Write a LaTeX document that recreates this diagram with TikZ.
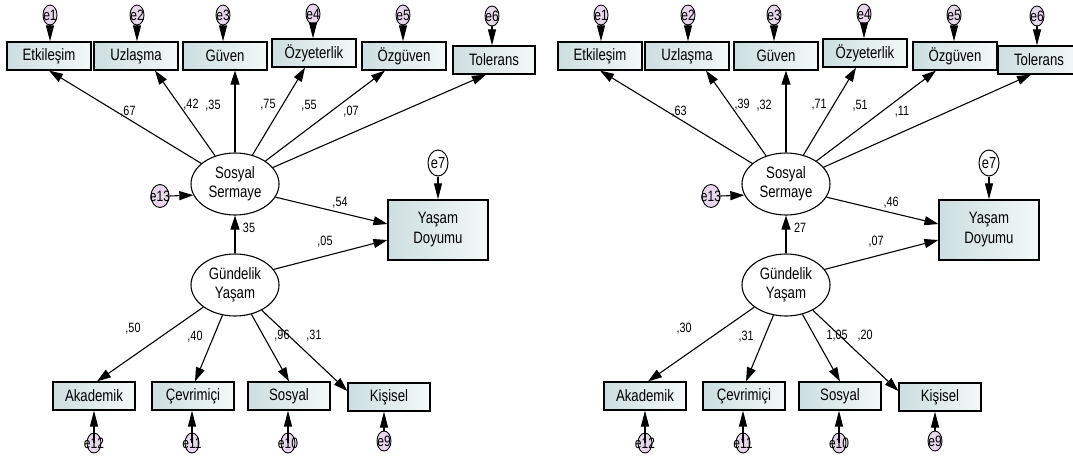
\documentclass[tikz,border=0pt]{standalone}
\usepackage{fontspec}
\setmainfont{Liberation Sans}
\newfontfamily\narrowsans[FakeStretch=0.8]{Liberation Sans}
\usetikzlibrary{arrows.meta,shapes.geometric,calc}

\definecolor{boxL}{RGB}{204,222,224}
\definecolor{boxR}{RGB}{244,248,248}
\definecolor{epink}{RGB}{232,214,236}

\tikzset{
  obs/.style={draw,line width=1.2pt,left color=boxL,right color=boxR,
    minimum width=84pt,minimum height=28pt,inner sep=0pt,
    font=\narrowsans\fontsize{16.5}{16.5}\selectfont},
  dvbox/.style={draw,line width=1.2pt,left color=boxL,right color=boxR,
    minimum width=100pt,minimum height=60pt,inner sep=0pt,align=center,
    font=\narrowsans\fontsize{16.5}{20}\selectfont},
  lat/.style={draw,ellipse,line width=1.1pt,fill=white,
    minimum width=88pt,minimum height=62pt,inner sep=0pt,align=center,
    font=\narrowsans\fontsize{16.5}{19}\selectfont},
  err/.style={draw,ellipse,line width=0.9pt,fill=epink,
    minimum width=14pt,minimum height=20pt,inner sep=0pt,
    font=\narrowsans\fontsize{15}{15}\selectfont},
  errw/.style={draw,ellipse,line width=1pt,fill=white,
    minimum width=20pt,minimum height=26pt,inner sep=0pt,
    font=\narrowsans\fontsize{16}{16}\selectfont},
  arr/.style={line width=1.1pt,-{Triangle[length=14pt,width=9pt]}},
  earr/.style={line width=1.1pt,-{Triangle[length=16pt,width=8pt]}},
  lbl/.style={font=\narrowsans\fontsize{13.5}{13.5}\selectfont,inner sep=0pt},
}

\newcommand\semdiag[3]{%
\begin{scope}[shift={(#1,0)},name prefix=#2-]
  % latent variables
  \node[lat] (ss) at (235,184) {Sosyal\\Sermaye};
  \node[lat] (gy) at (235,285) {Gündelik\\Yaşam};
  % top indicators
  \node[obs] (etk) at (49,56) {Etkileşim};
  \node[obs] (uzl) at (136,56) {Uzlaşma};
  \node[obs] (guv) at (225,56) {Güven};
  \node[obs] (ozy) at (314,53) {Özyeterlik};
  \node[obs] (ozg) at (404,56) {Özgüven};
  \node[obs,minimum width=82pt] (tol) at (494+#3,60) {Tolerans};
  % top errors
  \node[err] (e1) at (50,15) {\makebox[0pt]{e1}};
  \node[err] (e2) at (137,15) {\makebox[0pt]{e2}};
  \node[err] (e3) at (223,15) {\makebox[0pt]{e3}};
  \node[err] (e4) at (313,14) {\makebox[0pt]{e4}};
  \node[err] (e5) at (403,15) {\makebox[0pt]{e5}};
  \node[err] (e6) at (492+#3,16) {\makebox[0pt]{e6}};
  \draw[earr] (e1.south) -- (etk.north -| e1);
  \draw[earr] (e2.south) -- (uzl.north -| e2);
  \draw[earr] (e3.south) -- (guv.north -| e3);
  \draw[earr] (e4.south) -- (ozy.north -| e4);
  \draw[earr] (e5.south) -- (ozg.north -| e5);
  \draw[earr] (e6.south) -- (tol.north -| e6);
  % dependent variable
  \node[dvbox] (yd) at (438,230) {Yaşam\\Doyumu};
  \node[errw] (e7) at (438,163) {\makebox[0pt]{e7}};
  \draw[earr] (e7.south) -- (yd.north);
  % residual of Sosyal Sermaye
  \node[err,minimum width=18pt,minimum height=23pt] (e13) at (160,196) {\makebox[0pt]{e13}};
  \draw[arr] (e13.east) -- (ss.195);
  % bottom indicators
  \node[obs,minimum width=82pt] (aka) at (94,396) {Akademik};
  \node[obs,minimum width=82pt] (cev) at (193,396) {Çevrimiçi};
  \node[obs,minimum width=82pt] (sos) at (289,396) {Sosyal};
  \node[obs,minimum width=82pt] (kis) at (389,397) {Kişisel};
  \node[err] (e12) at (94,443) {\makebox[0pt]{e12}};
  \node[err] (e11) at (192,443) {\makebox[0pt]{e11}};
  \node[err] (e10) at (288,443) {\makebox[0pt]{e10}};
  \node[err] (e9) at (384,441) {\makebox[0pt]{e9}};
  \draw[earr] (e12.center) -- (aka.south -| e12);
  \draw[earr] (e11.center) -- (cev.south -| e11);
  \draw[earr] (e10.center) -- (sos.south -| e10);
  \draw[earr] (e9.north) -- (kis.south -| e9);
  % loadings of Sosyal Sermaye
  \draw[arr] (ss) -- (etk.south);
  \draw[arr] (ss) -- ([xshift=19pt]uzl.south);
  \draw[arr] (ss.north) -- (guv.south -| ss.north);
  \draw[arr] (ss) -- ([xshift=-9pt]ozy.south);
  \draw[arr] (ss) -- ([xshift=-19pt]ozg.south);
  \draw[arr] (ss) -- ([xshift=-8pt]tol.south);
  % structural paths
  \draw[arr] (gy.north) -- (ss.south);
  \draw[arr] (ss.-18) -- ([yshift=6pt]yd.west);
  \draw[arr] (gy.22) -- ([yshift=-10pt]yd.west);
  % loadings of Gündelik Yaşam
  \draw[arr] (gy) -- ([xshift=3pt]aka.north);
  \draw[arr] (gy) -- ([xshift=2pt]cev.north);
  \draw[arr] (gy) -- (sos.north);
  \draw[arr] (gy) -- ([yshift=6pt]kis.west);
  % labels
  \node[lbl] (lA) at (128,112) {\labA};
  \node[lbl] (lB) at (191,105) {\labB};
  \node[lbl] (lC) at (213,106) {\labC};
  \node[lbl] (lD) at (268,105) {\labD};
  \node[lbl] (lE) at (309,106) {\labE};
  \node[lbl] (lF) at (351,112) {\labF};
  \node[lbl] (lG) at (249,228) {\labG};
  \node[lbl] (lH) at (340,203) {\labH};
  \node[lbl] (lI) at (325,242) {\labI};
  \node[lbl] (lJ) at (133,329) {\labJ};
  \node[lbl] (lK) at (195,337) {\labK};
  \node[lbl] (lL) at (\labLx,336) {\labL};
  \node[lbl] (lM) at (314,336) {\labM};
\end{scope}}

\begin{document}
\begin{tikzpicture}[x=1pt,y=-1pt]
  \useasboundingbox (0,0) rectangle (1073,455);
  \def\labA{,67}\def\labB{,42}\def\labC{,35}\def\labD{,75}\def\labE{,55}\def\labF{,07}
  \def\labG{35}\def\labH{,54}\def\labI{,05}
  \def\labJ{,50}\def\labK{,40}\def\labL{,96}\def\labLx{282}\def\labM{,31}
  \semdiag{0}{L}{0}
  \def\labA{,63}\def\labB{,39}\def\labC{,32}\def\labD{,71}\def\labE{,51}\def\labF{,11}
  \def\labG{27}\def\labH{,46}\def\labI{,07}
  \def\labJ{,30}\def\labK{,31}\def\labL{1,05}\def\labLx{286}\def\labM{,20}
  \semdiag{551}{R}{-6}
\end{tikzpicture}
\end{document}
